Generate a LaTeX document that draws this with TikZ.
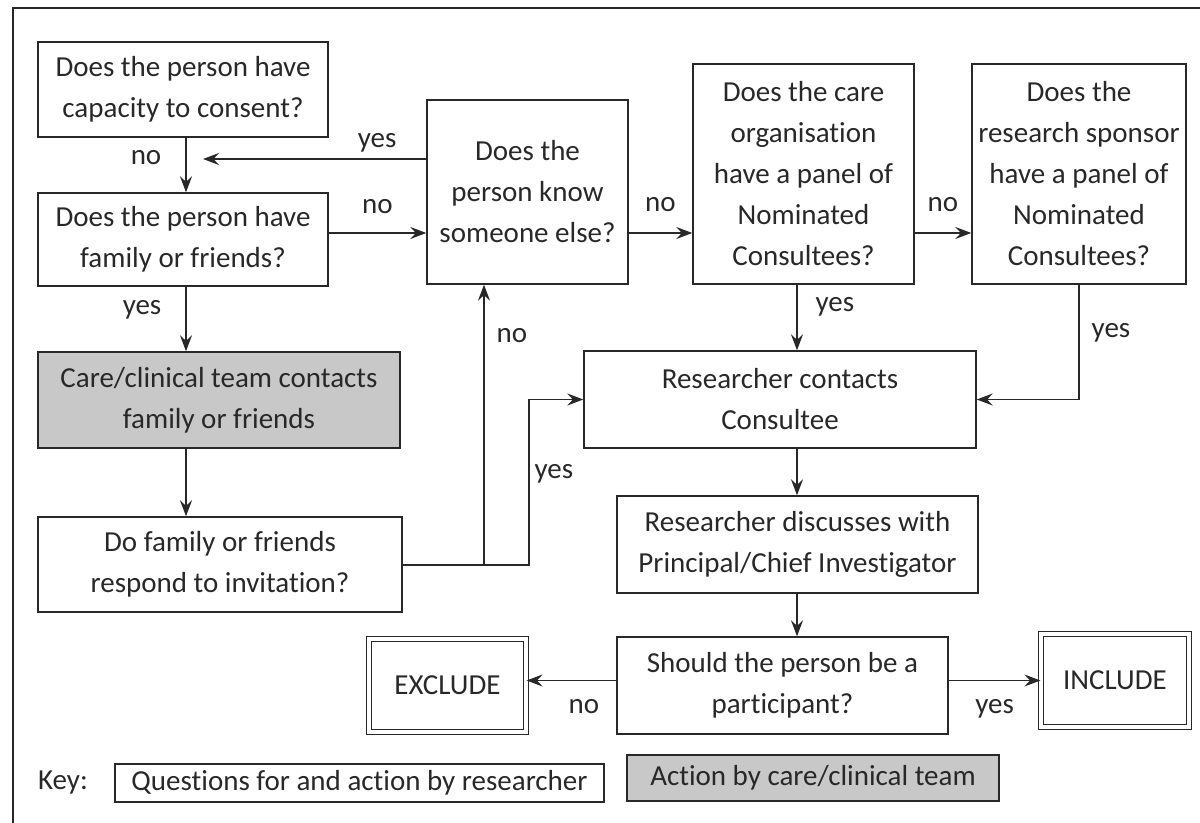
\documentclass[tikz,border=0pt]{standalone}
\usepackage{fontspec}
\setmainfont{Carlito}[Ligatures=NoCommon]
\usetikzlibrary{arrows.meta,positioning,calc}
\definecolor{inkgray}{RGB}{40,40,40}
\definecolor{teamgray}{RGB}{200,200,200}
\tikzset{
    block/.style = {draw=inkgray, rectangle, line width=0.7pt,
        text=inkgray, align=center, inner sep=0pt,
        font=\fontsize{14.5}{20.5}\selectfont},
    teamblock/.style = {block, fill=teamgray},
    final/.style = {block, double, double distance=1.6pt, line width=0.6pt},
    arrow/.style = {draw=inkgray, line width=0.7pt,
        -{Stealth[length=8pt,width=6pt,inset=2.8pt]}},
    lbl/.style = {text=inkgray, inner sep=2pt,
        font=\fontsize{14.5}{20.5}\selectfont}
}

\begin{document}
\begin{tikzpicture}[x=0.5pt, y=-0.5pt]
        \useasboundingbox (0,0) rectangle (1200,823);
        \draw [inkgray, line width=0.7pt] (13,823) -- (13,8) -- (1200,8);
        \node [block, minimum width=145pt, minimum height=47.5pt] (capacity) at (183,89.5) {Does the person have\\capacity to consent?};
        \node [block, minimum width=145pt, minimum height=46.5pt] (family) at (183,239.5) {Does the person have\\family or friends?};
        \node [block, minimum width=100.5pt, minimum height=92pt] (someone) at (527.5,192) {Does the\\person know\\someone else?};
        \node [block, minimum width=110.5pt, minimum height=110pt] (carepanel) at (803.5,174) {Does the care\\organisation\\have a panel of\\Nominated\\Consultees?};
        \node [block, minimum width=107pt, minimum height=110pt] (sponsorpanel) at (1079,174) {Does the\\research sponsor\\have a panel of\\Nominated\\Consultees?};
        \node [teamblock, minimum width=181pt, minimum height=48pt] (teamcontact) at (219,400) {Care/clinical team contacts\\family or friends};
        \node [block, minimum width=182pt, minimum height=47.5pt] (respond) at (220,564.5) {Do family or friends\\respond to invitation?};
        \node [block, minimum width=196pt, minimum height=48.5pt] (contact) at (780,399.5) {Researcher contacts\\Consultee};
        \node [block, minimum width=180.5pt, minimum height=48.5pt] (discuss) at (797.5,544.5) {Researcher discusses with\\Principal/Chief Investigator};
        \node [block, minimum width=165.5pt, minimum height=48.5pt] (participant) at (782.5,685.5) {Should the person be a\\participant?};
        \node [final, minimum width=78.5pt, minimum height=46.5pt] (exclude) at (447.5,685.5) {EXCLUDE};
        \node [final, minimum width=74pt, minimum height=46.5pt] (include) at (1115,680.5) {INCLUDE};
        \node [lbl] (keylabel) at (63,783) {Key:};
        \node [block, minimum width=244.5pt, minimum height=19pt] (keyresearcher) at (359.5,783) {Questions for and action by researcher};
        \node [teamblock, minimum width=186pt, minimum height=23pt] (keyteam) at (813,778) {Action by care/clinical team};
        \coordinate (norow) at (0,233);
        \coordinate (leftcol) at (186,0);
        \coordinate (midcol) at (797,0);
        \coordinate (yestip) at (203,159);
        \coordinate (split) at (484,565);
        \coordinate (bend) at (529,565);
        \draw [arrow] (capacity.south -| leftcol) -- node [lbl, pos=0.36, left=10pt] {no} (family.north -| leftcol);
        \draw [arrow] (someone.west |- yestip) -- node [lbl, pos=0.22, above=1pt] {yes} (yestip);
        \draw [arrow] (family.east |- norow) -- node [lbl, above=7.5pt] {no} (someone.west |- norow);
        \draw [arrow] (someone.east |- norow) -- node [lbl, above=8.5pt] {no} (carepanel.west |- norow);
        \draw [arrow] (carepanel.east |- norow) -- node [lbl, above=8.5pt] {no} (sponsorpanel.west |- norow);
        \draw [arrow] (family.south -| leftcol) -- node [lbl, pos=0.36, left=10pt] {yes} (teamcontact.north -| leftcol);
        \draw [arrow] (teamcontact.south -| leftcol) -- (respond.north -| leftcol);
        \draw [arrow] (respond.east |- split) -- (split) -- node [lbl, pos=0.82, right=4pt] {no} (someone.south -| split);
        \draw [arrow] (split) -- (bend) -- node [lbl, pos=0.55, right=0.5pt] {yes} (bend |- contact.west) -- (contact.west);
        \draw [arrow] (carepanel.south -| midcol) -- node [lbl, pos=0.34, right=7pt] {yes} (contact.north -| midcol);
        \draw [arrow] (sponsorpanel.south) |- node [lbl, pos=0.21, right=4pt] {yes} (contact.east);
        \draw [arrow] (contact.south -| midcol) -- (discuss.north -| midcol);
        \draw [arrow] (discuss.south -| midcol) -- (participant.north -| midcol);
        \draw [arrow] (participant.west |- include.west) -- node [lbl, pos=0.36, below=7pt] {no} (exclude.east |- include.west);
        \draw [arrow] (participant.east |- include.west) -- node [lbl, below=7pt] {yes} (include.west);
\end{tikzpicture}
\end{document}
